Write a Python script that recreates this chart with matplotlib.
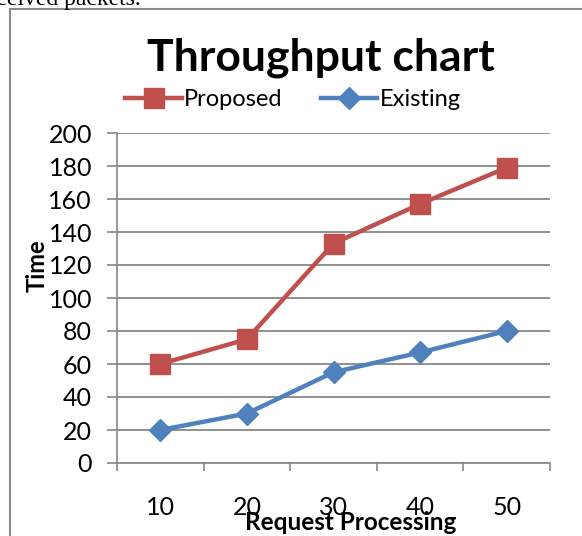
import matplotlib
matplotlib.use("Agg")
import matplotlib.pyplot as plt
from matplotlib.lines import Line2D

# data
categories = ["10", "20", "30", "40", "50"]
proposed = [60, 75, 133, 157, 179]
existing = [20, 30, 55, 67, 80]
y_ticks = list(range(0, 201, 20))

RED = "#C0504D"
BLUE = "#4F81BD"
GRID = "#878787"
FONT = "Lato"

W, H = 582, 536
fig = plt.figure(figsize=(W / 100, H / 100), dpi=100)
plt.rcParams["font.family"] = [FONT, "DejaVu Sans"]


def px(x, y):
    """Pixel coords (from top-left) to figure fraction."""
    return x / W, 1 - y / H


# chart frame (left and top edges only visible)
fig.add_artist(Line2D([10 / W, 10 / W], [0, 1 - 9 / H], color="#8c8c8c", lw=1.5))
fig.add_artist(Line2D([10 / W, 1], [1 - 9 / H, 1 - 9 / H], color="#8c8c8c", lw=1.5))

# cut-off line of the surrounding document text
fig.text(*px(-22, 5), "received packets.", family="Liberation Serif",
         fontsize=17, va="baseline", ha="left")

ax = fig.add_axes([117 / W, 73 / H, (550 - 117) / W, 330 / H])
x = list(range(len(categories)))
ax.plot(x, proposed, color=RED, lw=3.2, marker="s", markersize=14, label="Proposed")
ax.plot(x, existing, color=BLUE, lw=3.2, marker="D", markersize=11, label="Existing")

ax.set_xlim(-0.5, len(categories) - 0.5)
ax.set_ylim(0, 200)
ax.set_yticks(y_ticks)
ax.set_xticks(x)
ax.set_xticklabels(categories)
ax.set_xticks([i - 0.5 for i in range(len(categories) + 1)], minor=True)
ax.tick_params(axis="x", which="major", length=0, pad=24, labelsize=18)
ax.tick_params(axis="x", which="minor", length=6, width=1.2, color=GRID, direction="out")
ax.tick_params(axis="y", length=7, width=1.2, color=GRID, labelsize=18, pad=11)
ax.grid(axis="y", color=GRID, lw=1.3)
ax.set_axisbelow(True)
for s in ["top", "right"]:
    ax.spines[s].set_visible(False)
for s in ["left", "bottom"]:
    ax.spines[s].set_color(GRID)
    ax.spines[s].set_linewidth(1.2)

fig.text(*px(321, 71), "Throughput chart", ha="center", va="baseline",
         fontsize=32, fontweight="bold")
fig.text(*px(351, 530), "Request Processing", ha="center", va="baseline",
         fontsize=17.5, fontweight="bold")
fig.text(*px(37, 266), "Time", ha="center", va="center", rotation=90,
         fontsize=17, fontweight="bold")

fig.legend(loc="center", bbox_to_anchor=px(293, 100), ncol=2, frameon=False,
           fontsize=17, handlelength=2.4, handletextpad=0.1, columnspacing=1.6)

fig.savefig("out.png", dpi=100)
